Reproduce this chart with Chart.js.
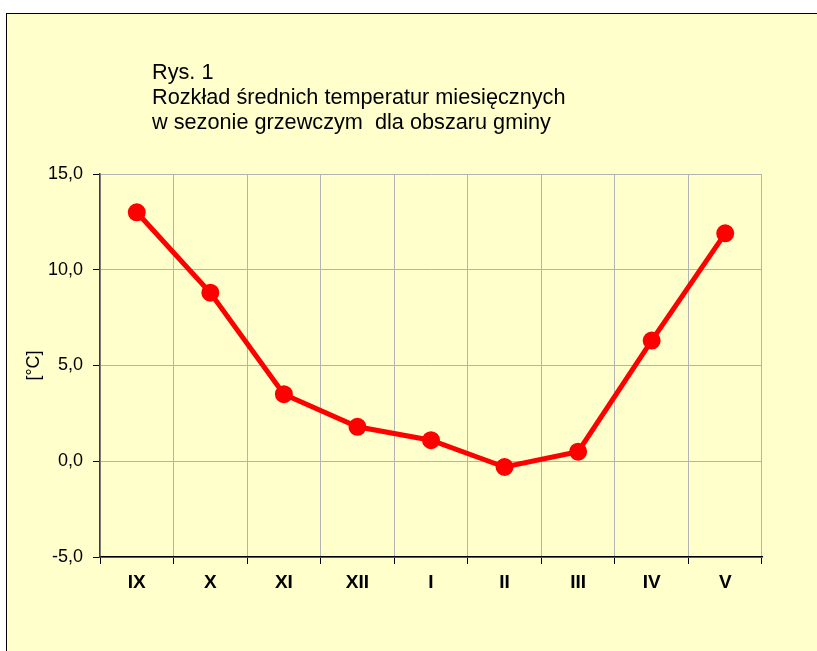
<!DOCTYPE html>
<html lang="pl">
<head>
<meta charset="utf-8">
<title>Rys. 1</title>
<style>
  body { margin: 0; background: #ffffff; overflow: hidden; }
  #frame {
    position: absolute; left: 6px; top: 13px; width: 840px; height: 670px;
    background: #ffffcc; border: 1px solid #000;
  }
  #wrap { position: absolute; left: 0; top: 0; width: 817px; height: 651px; }
</style>
</head>
<body>
<div id="frame"></div>
<div id="wrap"><canvas id="myChart" width="817" height="651"></canvas></div>
<script src="https://cdn.jsdelivr.net/npm/chart.js@4.4.0/dist/chart.umd.min.js"></script>
<script>
let months = ['IX', 'X', 'XI', 'XII', 'I', 'II', 'III', 'IV', 'V'];
let temps = [13.0, 8.8, 3.5, 1.8, 1.1, -0.3, 0.5, 6.3, 11.9];
let titleLines = ['Rys. 1', 'Rozkład średnich temperatur miesięcznych', 'w sezonie grzewczym  dla obszaru gminy'];

// napis w lewym górnym rogu
let titlePlugin = {
  id: 'rysTitle',
  afterDraw(chart) {
    let ctx = chart.ctx;
    ctx.save();
    ctx.fillStyle = '#000';
    ctx.font = '21.7px "Liberation Sans", Arial, sans-serif';
    ctx.textBaseline = 'alphabetic';
    for (let i = 0; i < titleLines.length; i++) {
      ctx.fillText(titleLines[i], 152, 79 + i * 25);
    }
    ctx.restore();
  }
};

let ctx = document.getElementById('myChart').getContext('2d');
let chart = new Chart(ctx, {
  type: 'line',
  data: {
    labels: months,
    datasets: [{
      data: temps,
      borderColor: '#ff0000',
      backgroundColor: '#ff0000',
      borderWidth: 5,
      pointRadius: 6.5,
      pointHoverRadius: 6.5,
      tension: 0
    }]
  },
  options: {
    responsive: false,
    animation: false,
    layout: { padding: { left: 0, top: 174, right: 55, bottom: 0 } },
    plugins: { legend: { display: false }, tooltip: { enabled: false } },
    scales: {
      x: {
        offset: true,
        grid: { offset: true, color: '#b4b4b4', tickColor: '#000', tickLength: 7 },
        border: { color: '#000', width: 1.5 },
        ticks: { color: '#000', padding: 7, font: { family: '"Liberation Sans", Arial', size: 19, weight: 'bold' } },
        afterFit(scale) { scale.height = 94; }
      },
      y: {
        min: -5, max: 15,
        ticks: {
          stepSize: 5, color: '#000', padding: 10,
          font: { family: '"Liberation Sans", Arial', size: 18 },
          callback: v => v.toFixed(1).replace('.', ',')
        },
        grid: { color: '#b4b4b4', tickColor: '#000', tickLength: 7 },
        border: { color: '#404040', width: 1.5 },
        title: { display: true, text: '[°C]', color: '#000', padding: { top: 23, bottom: 0 },
          font: { family: '"Liberation Sans", Arial', size: 18 } },
        afterFit(scale) { scale.width = 100; }
      }
    }
  },
  plugins: [titlePlugin]
});
</script>
</body>
</html>
